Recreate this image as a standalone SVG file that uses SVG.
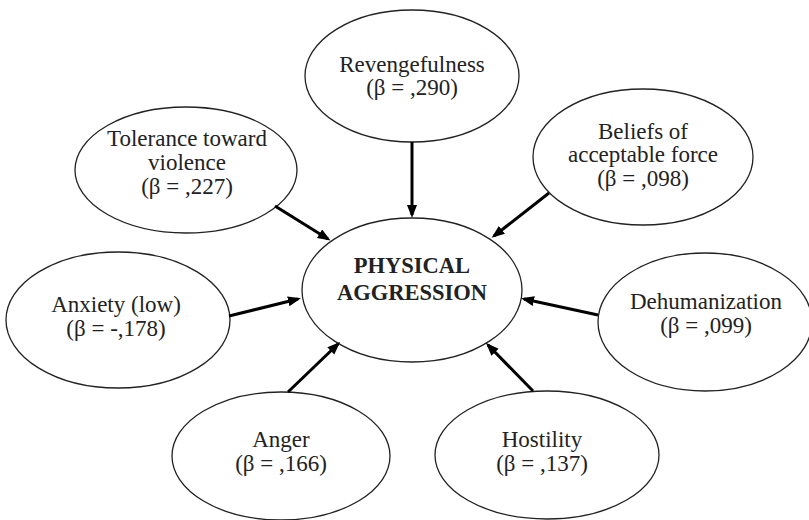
<svg xmlns="http://www.w3.org/2000/svg" width="809" height="520" viewBox="0 0 809 520">
  <style>
    .node ellipse { fill: #ffffff; stroke: #222222; stroke-width: 1.3; }
    .node text { font-family: "Liberation Serif", "Times New Roman", serif; font-size: 23px; fill: #222222; text-anchor: middle; }
    .node text.main { font-weight: bold; font-size: 22.5px; }
    .edges line { stroke: #000000; stroke-width: 3; marker-end: url(#arrow); }
  </style>
  <defs>
    <marker id="arrow" markerUnits="userSpaceOnUse" markerWidth="14" markerHeight="12" refX="10" refY="5" orient="auto">
      <path d="M0,0 L13,5 L0,10 z" fill="#000000"/>
    </marker>
  </defs>
  <rect width="809" height="520" fill="#ffffff"/>

  <!-- predictor nodes -->
  <g id="revengefulness" class="node">
    <ellipse cx="412" cy="76" rx="107" ry="66"/>
    <text x="412" y="72">Revengefulness</text>
    <text x="412" y="95">(β = ,290)</text>
  </g>
  <g id="tolerance" class="node">
    <ellipse cx="186" cy="170" rx="111" ry="63"/>
    <text x="187" y="146">Tolerance toward</text>
    <text x="187" y="170">violence</text>
    <text x="187" y="194">(β = ,227)</text>
  </g>
  <g id="beliefs" class="node">
    <ellipse cx="643" cy="157" rx="110" ry="68"/>
    <text x="643" y="139">Beliefs of</text>
    <text x="643" y="162">acceptable force</text>
    <text x="643" y="186">(β = ,098)</text>
  </g>
  <g id="anxiety" class="node">
    <ellipse cx="118" cy="320" rx="112" ry="68"/>
    <text x="116" y="312">Anxiety (low)</text>
    <text x="116" y="336">(β = -,178)</text>
  </g>
  <g id="dehumanization" class="node">
    <ellipse cx="705" cy="322" rx="107" ry="69"/>
    <text x="706" y="309">Dehumanization</text>
    <text x="706" y="333">(β = ,099)</text>
  </g>
  <g id="anger" class="node">
    <ellipse cx="281" cy="456" rx="109" ry="64"/>
    <text x="281" y="447">Anger</text>
    <text x="281" y="471">(β = ,166)</text>
  </g>
  <g id="hostility" class="node">
    <ellipse cx="547" cy="455" rx="112" ry="64"/>
    <text x="542" y="447">Hostility</text>
    <text x="542" y="471">(β = ,137)</text>
  </g>

  <!-- outcome node -->
  <g id="physical-aggression" class="node">
    <ellipse cx="412" cy="290" rx="110" ry="72"/>
    <text class="main" x="412" y="273">PHYSICAL</text>
    <text class="main" x="412" y="300">AGGRESSION</text>
  </g>

  <!-- connectors -->
  <g id="edges" class="edges">
    <line x1="412" y1="142" x2="412" y2="215"/>
    <line x1="275" y1="206" x2="328" y2="239"/>
    <line x1="549" y1="193" x2="494" y2="236"/>
    <line x1="229" y1="316" x2="298" y2="299"/>
    <line x1="598" y1="315" x2="524" y2="299"/>
    <line x1="288" y1="392" x2="338" y2="344"/>
    <line x1="533" y1="391" x2="488" y2="345"/>
  </g>
</svg>
